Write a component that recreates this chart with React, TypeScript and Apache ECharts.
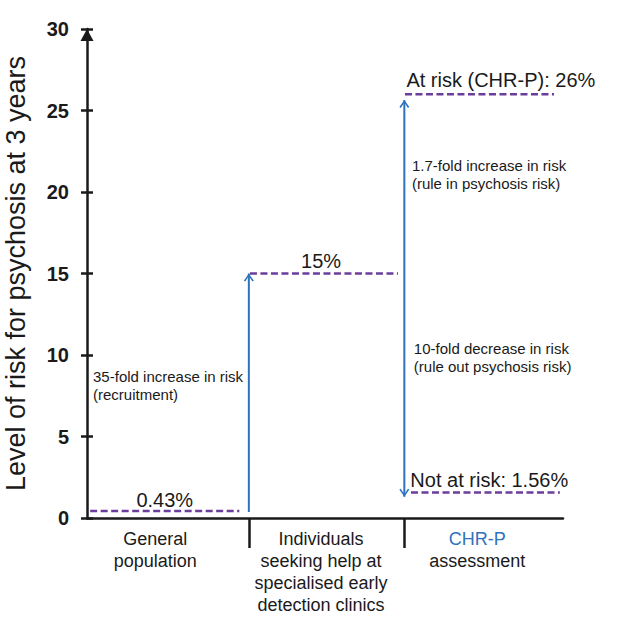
import React, { useEffect, useRef } from "react";
import * as echarts from "echarts";

const FONT = "'Liberation Sans', Arial, sans-serif";
const PURPLE = "#6b3d9c";
const BLUE = "#2e72bd";
const INK = "#1a1a1a";

// y axis
const yMin = 0;
const yMax = 30;
const yStep = 5;

// x axis (three groups laid along 0..3)
const xMin = 0;
const xMax = 3;
const groupLabels = [
  "General\npopulation",
  "Individuals\nseeking help at\nspecialised early\ndetection clinics",
  "{b|CHR-P}\nassessment",
];
const groupLabelPos = [0.43, 1.475, 2.46];
const groupSeparators = [1.02, 2.0];

// risk levels (dashed segments)
const riskValues = [0.43, 15, 26, 1.56];
const riskStart = [0.02, 1.027, 2.004, 2.042];
const riskEnd = [0.96, 1.96, 2.943, 2.98];
const riskTexts = ["0.43%", "15%", "At risk (CHR-P): 26%", "Not at risk: 1.56%"];
const riskTextX = [0.49, 1.475, 2.013, 2.038];
const riskTextAlign = ["center", "center", "left", "left"];
const riskTextGap = [1, 3, 4, 3];

// arrows
const arrowX = [1.02, 2.0];
const arrowFrom = [0.37, 1.3];
const arrowTo = [15, 25.65];
const arrowDouble = [false, true];

// notes
const noteTexts = [
  "35-fold increase in risk\n(recruitment)",
  "1.7-fold increase in risk\n(rule in psychosis risk)",
  "10-fold decrease in risk\n(rule out psychosis risk)",
];
const noteX = [0.038, 2.048, 2.06];
const noteY = [9.26, 22.15, 10.98];

const CHEVRON = "path://M0,9 L6,0 L12,9 L10.3,10 L6,3.2 L1.7,10 Z";
const HEAD_W = 10;
const HEAD_H = 8;

export default function App() {
  const ref = useRef<HTMLDivElement>(null);

  useEffect(() => {
    if (!ref.current) return;
    const chart = echarts.init(ref.current, null, { renderer: "svg" });

    const dashedSeries = riskValues.map((v, i) => ({
      type: "line",
      name: riskTexts[i],
      data: [
        [riskStart[i], v],
        [riskEnd[i], v],
      ],
      symbol: "none",
      silent: true,
      z: 3,
      lineStyle: { color: PURPLE, width: 2.5, type: [7, 3.5] },
    }));

    const arrowSeries = arrowX.map((x, i) => ({
      type: "line",
      data: [
        arrowDouble[i]
          ? {
              value: [x, arrowFrom[i]],
              symbol: CHEVRON,
              symbolRotate: 180,
              symbolOffset: [0, -HEAD_H / 2],
            }
          : { value: [x, arrowFrom[i]], symbol: "none" },
        {
          value: [x, arrowTo[i]],
          symbol: CHEVRON,
          symbolOffset: [0, HEAD_H / 2],
        },
      ],
      symbolSize: [HEAD_W, HEAD_H],
      silent: true,
      z: 4,
      itemStyle: { color: BLUE },
      lineStyle: { color: BLUE, width: 2 },
    }));

    const yAxisBase = {
      type: "value",
      min: yMin,
      max: yMax,
      interval: yStep,
      position: "left",
      splitLine: { show: false },
    };

    chart.setOption({
      animation: false,
      grid: {
        left: 87,
        right: 67,
        top: 29,
        bottom: 99,
        containLabel: false,
        outerBoundsMode: "none",
      },
      xAxis: {
        type: "value",
        min: xMin,
        max: xMax,
        splitLine: { show: false },
        axisLine: { show: true, lineStyle: { color: INK, width: 2.5 } },
        axisTick: {
          show: true,
          customValues: groupSeparators,
          length: 30,
          lineStyle: { color: INK, width: 2.5 },
        },
        axisLabel: {
          customValues: groupLabelPos,
          margin: 10,
          fontFamily: FONT,
          fontSize: 18,
          lineHeight: 22,
          color: INK,
          align: "center",
          formatter: (v: number) => {
            let best = 0;
            groupLabelPos.forEach((p, i) => {
              if (Math.abs(p - v) < Math.abs(groupLabelPos[best] - v)) best = i;
            });
            return groupLabels[best];
          },
          rich: {
            b: { color: BLUE, fontFamily: FONT, fontSize: 18, lineHeight: 22 },
          },
        },
      },
      yAxis: [
        {
          ...yAxisBase,
          name: "Level of risk for psychosis at 3 years",
          nameLocation: "middle",
          nameGap: 58,
          nameTextStyle: { fontFamily: FONT, fontSize: 27, color: INK },
          axisLine: {
            show: true,
            lineStyle: { color: INK, width: 2.5 },
            symbol: ["none", "triangle"],
            symbolSize: [13, 12],
            symbolOffset: [0, -6],
          },
          axisTick: { show: true, length: 6, lineStyle: { color: INK, width: 2.5 } },
          axisLabel: {
            margin: 18,
            fontFamily: FONT,
            fontSize: 20,
            fontWeight: "bold",
            color: INK,
          },
        },
        {
          ...yAxisBase,
          axisLine: { show: false },
          axisTick: { show: true, inside: true, length: 6, lineStyle: { color: INK, width: 2.5 } },
          axisLabel: { show: false },
        },
      ],
      series: [...dashedSeries, ...arrowSeries],
    });

    const px = (x: number, y: number) => chart.convertToPixel({ gridIndex: 0 }, [x, y]) as number[];

    const graphics: any[] = [];
    riskTexts.forEach((t, i) => {
      const p = px(riskTextX[i], riskValues[i]);
      graphics.push({
        type: "text",
        x: p[0],
        y: p[1] - riskTextGap[i],
        silent: true,
        style: {
          text: t,
          fontFamily: FONT,
          fontSize: 20,
          fill: INK,
          textAlign: riskTextAlign[i],
          textVerticalAlign: "bottom",
        },
      });
    });
    noteTexts.forEach((t, i) => {
      const p = px(noteX[i], noteY[i]);
      graphics.push({
        type: "text",
        x: p[0],
        y: p[1],
        silent: true,
        style: {
          text: t,
          fontFamily: FONT,
          fontSize: 15,
          lineHeight: 18,
          fill: INK,
          textAlign: "left",
          textVerticalAlign: "top",
        },
      });
    });
    chart.setOption({ graphic: graphics });

    return () => chart.dispose();
  }, []);

  return (
    <div
      ref={ref}
      style={{ position: "fixed", left: 0, top: 0, width: 630, height: 617, background: "#fff" }}
    />
  );
}
